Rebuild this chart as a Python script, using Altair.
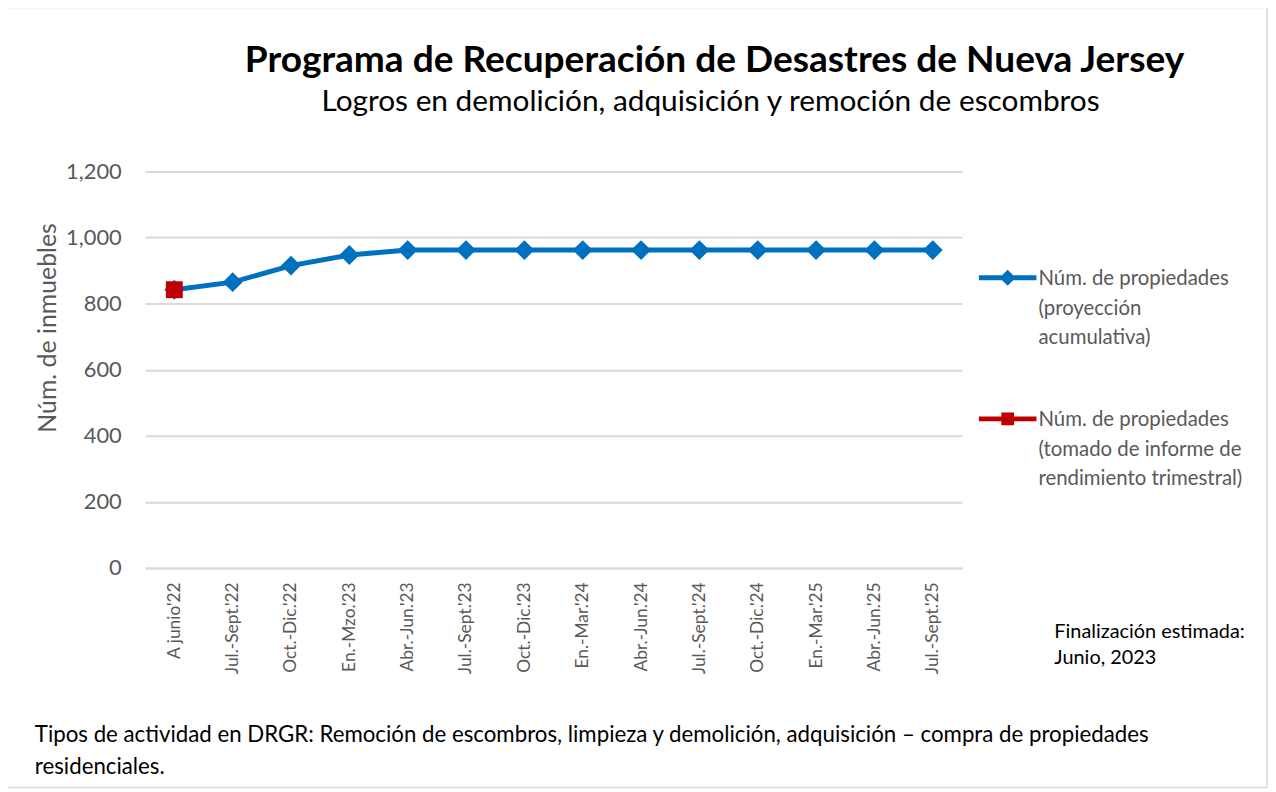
import altair as alt
import pandas as pd

periods = ["A junio'22", "Jul.-Sept.'22", "Oct.-Dic.'22", "En.-Mzo.'23", "Abr.-Jun.'23",
           "Jul.-Sept.'23", "Oct.-Dic.'23", "En.-Mar.'24", "Abr.-Jun.'24", "Jul.-Sept.'24",
           "Oct.-Dic.'24", "En.-Mar.'25", "Abr.-Jun.'25", "Jul.-Sept.'25"]
proj_values = [842, 865, 915, 947, 962, 962, 962, 962, 962, 962, 962, 962, 962, 962]
actual_periods = ["A junio'22"]
actual_values = [842]

series_proj = "Núm. de propiedades|(proyección|acumulativa)"
series_act = "Núm. de propiedades|(tomado de informe de|rendimiento trimestral)"
series_names = [series_proj, series_act]
series_colors = ["#0070C0", "#C00000"]

rows = [{"period": p, "value": v, "series": series_proj} for p, v in zip(periods, proj_values)]
rows += [{"period": p, "value": v, "series": series_act} for p, v in zip(actual_periods, actual_values)]
df = pd.DataFrame(rows)

FONT = "Lato"
GRAY = "#595959"

x_enc = alt.X("period:N", sort=periods, scale=alt.Scale(type="point", padding=0.5, domain=periods),
              axis=alt.Axis(title=None, labelAngle=-90, labelAlign="right", labelBaseline="middle",
                            labelFont=FONT, labelFontSize=17.5, labelColor=GRAY, labelPadding=14,
                            ticks=False, domain=True, domainColor="#d9d9d9", domainWidth=2, grid=False))
y_enc = alt.Y("value:Q", scale=alt.Scale(domain=[0, 1200], nice=False),
              axis=alt.Axis(title="Núm. de inmuebles", values=[0, 200, 400, 600, 800, 1000, 1200],
                            format=",d", labelFont=FONT, labelFontSize=22, labelColor=GRAY,
                            labelPadding=24, ticks=False, domain=False, gridColor="#d9d9d9",
                            gridWidth=2, titleFont=FONT, titleFontSize=25, titleColor=GRAY,
                            titleFontWeight="normal", titleX=-98, titleY=157, titleAngle=270,
                            titleAlign="center", titleBaseline="middle"))
color_scale = alt.Scale(domain=series_names, range=series_colors)

# legend symbols: a line with a marker, shifted down to sit on the first label line
diamond_path = "M-1,0.225L1,0.225L1,0.395L-1,0.395Z M0,0.03L0.28,0.31L0,0.59L-0.28,0.31Z"
square_path = "M-1,0.225L1,0.225L1,0.395L-1,0.395Z M-0.22,0.09L0.22,0.09L0.22,0.53L-0.22,0.53Z"

legend = alt.Legend(title="", orient="none", legendX=839, legendY=69,
                    labelExpr="split(datum.label, '|')", labelFont=FONT, labelFontSize=20.5,
                    labelColor=GRAY, labelLimit=400, labelOffset=2, rowPadding=32,
                    labelBaseline="top", symbolSize=3364, symbolOpacity=1,
                    symbolStrokeWidth=0)

base = alt.Chart(df)
proj_data = base.transform_filter(alt.datum.series == series_proj)
act_data = base.transform_filter(alt.datum.series == series_act)

border = alt.Chart(pd.DataFrame({"a": [0]})).mark_rect(
    fill="transparent", stroke="#d9d9d9", strokeWidth=1.5
).encode(x=alt.value(-140), x2=alt.value(1129), y=alt.value(-165), y2=alt.value(620))

line = proj_data.mark_line(strokeWidth=5, color=series_colors[0]).encode(x=x_enc, y=y_enc)

diamonds = proj_data.mark_point(shape="diamond", filled=True, size=400, opacity=1,
                                color=series_colors[0]).encode(x=x_enc, y=y_enc)

squares = act_data.mark_square(size=290, opacity=1, color=series_colors[1]).encode(x=x_enc, y=y_enc)

# invisible layer that only carries the legend (line + marker symbols)
legend_layer = base.mark_point(filled=True, size=1, opacity=0).encode(
    x=x_enc, y=y_enc,
    color=alt.Color("series:N", scale=color_scale, legend=legend),
    shape=alt.Shape("series:N", scale=alt.Scale(domain=series_names, range=[diamond_path, square_path]),
                    legend=legend))

texts = pd.DataFrame({"a": [0]})
title = alt.Chart(texts).mark_text(
    text="Programa de Recuperación de Desastres de Nueva Jersey", font=FONT, fontSize=37.3,
    fontWeight="bold", color="#000000", align="center", baseline="alphabetic"
).encode(x=alt.value(573), y=alt.value(-100))
subtitle = alt.Chart(texts).mark_text(
    text="Logros en demolición, adquisición y remoción de escombros", font=FONT, fontSize=30,
    color="#000000", align="center", baseline="alphabetic"
).encode(x=alt.value(569), y=alt.value(-61))
footer = alt.Chart(texts).mark_text(
    text=["Tipos de actividad en DRGR: Remoción de escombros, limpieza y demolición, adquisición – compra de propiedades",
          "residenciales."], font=FONT, fontSize=22.4, lineHeight=32,
    color="#000000", align="left", baseline="middle"
).encode(x=alt.value(-111), y=alt.value(567))
note = alt.Chart(texts).mark_text(
    text=["Finalización estimada:", "Junio, 2023"], font=FONT, fontSize=20, lineHeight=26,
    color="#000000", align="left", baseline="middle"
).encode(x=alt.value(915), y=alt.value(464))

chart = alt.layer(border, line, diamonds, squares, legend_layer, title, subtitle, footer, note).properties(
    width=822, height=399,
    autosize=alt.AutoSizeParams(type="none"),
    padding={"left": 138, "top": 162, "right": 308, "bottom": 221},
).configure(background="white", view=alt.ViewConfig(strokeWidth=0),
            style={"guide-label": {"lineHeight": 30}})

chart.save("out.html", embed_options={"renderer": "svg", "actions": False})
